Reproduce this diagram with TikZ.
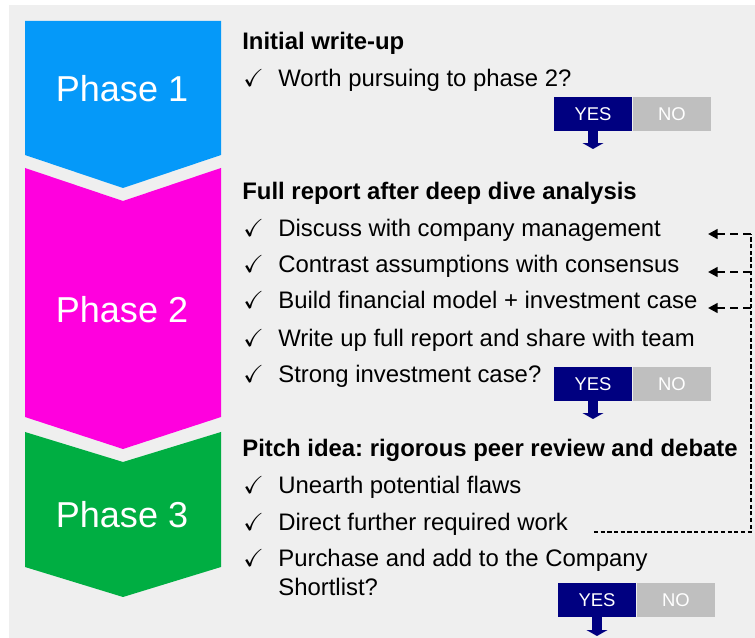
\documentclass[tikz,border=0pt]{standalone}
\usepackage{amssymb}
\usepackage{fontspec}
\setmainfont{Liberation Sans}
\usetikzlibrary{arrows.meta, positioning}
\frenchspacing

\definecolor{phaseblue}{RGB}{5, 153, 249}
\definecolor{phasepink}{RGB}{255, 0, 222}
\definecolor{phasegreen}{RGB}{0, 174, 66}
\definecolor{yesnavy}{RGB}{0, 0, 128}
\definecolor{nogray}{RGB}{191, 191, 191}
\definecolor{panelgray}{RGB}{239, 239, 239}

\tikzset{
  phaselabel/.style={anchor=base, inner sep=0pt, text=white, font=\fontsize{20.5}{24}\selectfont},
  headline/.style={anchor=base west, inner sep=0pt, font=\fontsize{13.6}{16}\selectfont\bfseries},
  itemline/.style={anchor=base west, inner sep=0pt, font=\fontsize{13.6}{16}\selectfont},
  tickmark/.style={anchor=base west, inner sep=0pt, font=\fontsize{14}{16}\selectfont},
  answer/.style={text=white, minimum width=1.56cm, minimum height=0.68cm, inner sep=0pt, outer sep=0pt, font=\fontsize{10.5}{12}\selectfont},
  yesbox/.style={answer, fill=yesnavy},
  nobox/.style={answer, fill=nogray},
  goarrow/.style={draw=yesnavy, line width=0.2cm, -{Triangle[width=12pt, length=3.4pt, line width=0pt]}},
  loopline/.style={draw=black, line width=0.6pt, dash pattern=on 2.4pt off 1.4pt},
  fbarrow/.style={draw=black, line width=1.4pt, dash pattern=on 4.5pt off 3pt, -{Triangle[width=5.5pt, length=5.5pt]}}
}

\begin{document}
\begin{tikzpicture}[x=0.02cm, y=-0.02cm]
  \useasboundingbox (0,0) rectangle (755,638);
  \fill[white] (0,0) rectangle (755,638);
  \fill[panelgray] (9,5) rectangle (755,638);

  % Phase 1
  \fill[phaseblue] (25,21) -- (221,21) -- (221,155) -- (123,188) -- (25,155) -- cycle;
  \node[phaselabel] (phase1) at (122,102) {Phase 1};
  \node[headline] (head1) at (242,50) {Initial write-up};
  \node[tickmark] (tick1) at (243,87) {$\checkmark$};
  \node[itemline] (worth) at (278,87) {Worth pursuing to phase 2?};
  \node[yesbox] (yes1) at (593,114) {YES};
  \node[nobox, right=0.02cm of yes1] (no1) {NO};
  \coordinate (go1) at (593,149);
  \draw[goarrow] (yes1.south) -- (go1);

  % Phase 2
  \fill[phasepink] (25,168) -- (123,201) -- (221,168) -- (221,417) -- (123,449) -- (25,417) -- cycle;
  \node[phaselabel] (phase2) at (122,323) {Phase 2};
  \node[headline] (head2) at (242,200) {Full report after deep dive analysis};
  \node[tickmark] (tick2) at (243,237) {$\checkmark$};
  \node[itemline] (discuss) at (278,237) {Discuss with company management};
  \node[tickmark] (tick3) at (243,273) {$\checkmark$};
  \node[itemline] (contrast) at (278,273) {Contrast assumptions with consensus};
  \node[tickmark] (tick4) at (243,309) {$\checkmark$};
  \node[itemline] (build) at (278,309) {Build financial model + investment case};
  \node[tickmark] (tick5) at (243,347) {$\checkmark$};
  \node[itemline] (writeup) at (278,347) {Write up full report and share with team};
  \node[tickmark] (tick6) at (243,383) {$\checkmark$};
  \node[itemline] (strong) at (278,383) {Strong investment case?};
  \node[yesbox] (yes2) at (593,384) {YES};
  \node[nobox, right=0.02cm of yes2] (no2) {NO};
  \coordinate (go2) at (593,419);
  \draw[goarrow] (yes2.south) -- (go2);

  % Phase 3
  \fill[phasegreen] (25,432) -- (123,462) -- (221,432) -- (221,567) -- (123,597) -- (25,567) -- cycle;
  \node[phaselabel] (phase3) at (122,528) {Phase 3};
  \node[headline] (head3) at (242,457) {Pitch idea: rigorous peer review and debate};
  \node[tickmark] (tick7) at (243,494) {$\checkmark$};
  \node[itemline] (unearth) at (278,494) {Unearth potential flaws};
  \node[tickmark] (tick8) at (243,531) {$\checkmark$};
  \node[itemline] (direct) at (278,531) {Direct further required work};
  \node[tickmark] (tick9) at (243,567) {$\checkmark$};
  \node[itemline] (purchase) at (278,567) {Purchase and add to the Company};
  \node[itemline] (shortlist) at (278,596) {Shortlist?};
  \node[yesbox] (yes3) at (597,600) {YES};
  \node[nobox, right=0.02cm of yes3] (no3) {NO};
  \coordinate (go3) at (597,636);
  \draw[goarrow] (yes3.south) -- (go3);

  % feedback loop
  \coordinate (loopStart) at (594,532);
  \coordinate (loopCorner) at (751,532);
  \coordinate (loopTop) at (751,234);
  \coordinate (loopMid) at (751,272);
  \coordinate (loopLow) at (751,308);
  \coordinate (back1) at (708,234);
  \coordinate (back2) at (708,272);
  \coordinate (back3) at (708,308);
  \draw[loopline] (loopStart) -- (loopCorner) -- (loopTop);
  \draw[fbarrow] (loopTop) -- (back1);
  \draw[fbarrow] (loopMid) -- (back2);
  \draw[fbarrow] (loopLow) -- (back3);
\end{tikzpicture}
\end{document}
